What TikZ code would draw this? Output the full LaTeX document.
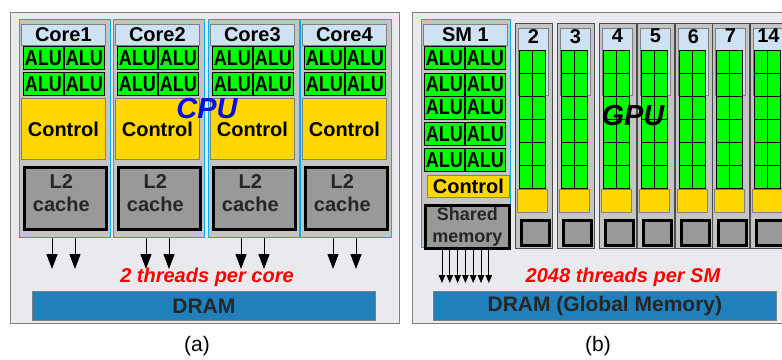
\documentclass[tikz,border=0pt]{standalone}
\usepackage{fontspec}
\setmainfont{Liberation Sans}
\usetikzlibrary{arrows.meta,positioning,calc}
\definecolor{aluGreen}{RGB}{0,255,0}
\definecolor{ctrlYellow}{RGB}{255,215,0}
\definecolor{headBlue}{RGB}{207,226,243}
\definecolor{cacheGray}{RGB}{153,153,153}
\definecolor{colGray}{RGB}{196,196,196}
\definecolor{dramBlue}{RGB}{31,128,187}
\definecolor{frameBg}{RGB}{232,234,238}
\definecolor{cpuBlue}{RGB}{10,10,235}
\newcommand{\ALU}{\scalebox{1}[1.2]{ALU}}
\tikzset{
  panel/.style={draw=gray, line width=1.2pt, fill=frameBg},
  corecol/.style={draw=cyan, fill=colGray, line width=0.8pt, inner sep=0pt},
  head/.style={draw=gray, fill=headBlue, line width=0.8pt, inner sep=0pt, font=\fontsize{20}{20}\selectfont\bfseries},
  alu/.style={draw=black, fill=aluGreen, line width=0.8pt, minimum width=40pt, minimum height=23pt, inner sep=0pt, font=\fontsize{18}{18}\selectfont\bfseries},
  ctrl/.style={draw=gray, fill=ctrlYellow, line width=0.8pt, inner sep=0pt, font=\fontsize{20}{20}\selectfont\bfseries},
  cache/.style={draw=black, fill=cacheGray, line width=2.6pt, inner sep=0pt, align=center, text=black!85, font=\fontsize{20}{23}\selectfont\bfseries},
  cachetext/.style={inner sep=0pt, align=center, text=black!85, font=\fontsize{20}{23}\selectfont\bfseries},
  smcol/.style={draw=black!70, fill=colGray, line width=0.8pt, minimum width=37pt, minimum height=225pt, inner sep=0pt},
  smhead/.style={draw=gray, fill=headBlue, line width=0.8pt, minimum width=30pt, minimum height=67pt, inner sep=0pt},
  grn/.style={draw=black, fill=aluGreen, line width=0.8pt, minimum width=26pt, minimum height=138pt, inner sep=0pt},
  num/.style={inner sep=1pt, font=\fontsize{20}{20}\selectfont\bfseries},
  dram/.style={draw=gray, fill=dramBlue, line width=0.8pt, inner sep=0pt, text=black!85, font=\fontsize{21}{21}\selectfont\bfseries},
  note/.style={text=red, font=\fontsize{20}{20}\selectfont\bfseries\itshape},
  big/.style={font=\fontsize{29}{29}\selectfont\bfseries\itshape},
  caption/.style={font=\fontsize{21}{21}\selectfont},
  flow/.style={-{Triangle[length=15pt,width=11pt]}, line width=1pt},
  flowsm/.style={-{Triangle[length=8pt,width=6.5pt]}, line width=0.8pt},
}
% one CPU core: name, left x, label
\newcommand{\CoreCol}[3]{%
  \node[corecol, anchor=north west, minimum width=91pt, minimum height=218pt] (#1) at (#2,19) {};
  \node[head, anchor=north west, minimum width=84pt, minimum height=21pt] (#1h) at ({#2+2},24) {#3};
  \foreach \row/\y in {1/46,2/72} {
    \node[alu, anchor=north west] (#1alu\row l) at ({#2+4},\y) {\ALU};
    \node[alu, anchor=north west] (#1alu\row r) at ({#2+45},\y) {\ALU};
  }
  \node[ctrl, anchor=north west, minimum width=84pt, minimum height=61pt] (#1c) at ({#2+2},98) {Control};
  \node[cache, anchor=north west, minimum width=82pt, minimum height=62pt] (#1m) at ({#2+4},166) {};
  \node[cachetext] (#1mt) at ($(#1m.center)+(-4,-5)$) {L2\\cache};
  \coordinate (#1e1) at ({#2+33},269);
  \coordinate (#1e2) at ({#2+56},269);
  \draw[flow] (#1e1 |- #1.south) -- (#1e1);
  \draw[flow] (#1e2 |- #1.south) -- (#1e2);
}
% one GPU streaming multiprocessor, collapsed: name, left x, label
\newcommand{\SMCol}[3]{%
  \node[smcol, anchor=north west] (#1) at (#2,23) {};
  \node[smhead, anchor=north west] (#1h) at ({#2+3},28) {};
  \node[num, anchor=north] (#1n) at (#1h.north) {#3};
  \node[grn, anchor=north west] (#1g) at ({#2+4},50) {};
  \draw[line width=0.8pt] (#1g.north) -- (#1g.south);
  \foreach \k in {1,...,5}
    \draw[line width=0.8pt] ($(#1g.north west)+(0,23*\k)$) -- ++(26,0);
  \node[ctrl, anchor=north west, minimum width=30pt, minimum height=23pt] (#1c) at ({#2+2},189) {};
  \node[cache, anchor=north west, minimum width=28pt, minimum height=25pt, line width=3pt] (#1m) at ({#2+5},219) {};
}

\begin{document}
\begin{tikzpicture}[x=1pt, y=-1pt]
  \useasboundingbox (0,0) rectangle (782,359);
  \clip (0,0) rectangle (782,359);
  \fill[white] (0,0) rectangle (782,359);

  % (a) CPU
  \node[panel, anchor=north west, minimum width=389pt, minimum height=311pt] (cpu) at (10,12) {};
  \CoreCol{core1}{19}{Core1}
  \CoreCol{core2}{113}{Core2}
  \CoreCol{core3}{208}{Core3}
  \CoreCol{core4}{300}{Core4}
  \node[note] (cpunote) at (207,277) {2 threads per core};
  \node[dram, anchor=north west, minimum width=343pt, minimum height=29pt] (dram) at (32,291) {DRAM};
  \node[big, text=cpuBlue] (cpulabel) at (207,109) {CPU};
  \node[caption] (capa) at (197,346) {(a)};

  % (b) GPU
  \node[panel, anchor=north west, minimum width=385pt, minimum height=311pt] (gpu) at (412,12) {};
  \node[corecol, anchor=north west, minimum width=89pt, minimum height=228pt] (sm1) at (421,19) {};
  \node[head, anchor=north west, minimum width=84pt, minimum height=21pt] (sm1h) at (423,24) {SM 1};
  \foreach \row/\y in {1/46,2/72.5,3/95.5,4/122,5/148} {
    \node[alu, anchor=north west] (sm1alu\row l) at (424,\y) {\ALU};
    \node[alu, anchor=north west] (sm1alu\row r) at (465,\y) {\ALU};
  }
  \node[ctrl, anchor=north west, minimum width=82pt, minimum height=22pt] (sm1c) at (427,175) {Control};
  \node[cache, anchor=north west, minimum width=84pt, minimum height=43pt, font=\fontsize{18}{22}\selectfont\bfseries] (sm1m) at (424,204) {Shared\\memory};
  \foreach \i in {0,...,6} {
    \coordinate (sme\i) at ({442+7.8*\i},283);
    \draw[flowsm] (sme\i |- sm1m.south) -- (sme\i);
  }
  \SMCol{sm2}{515}{2}
  \SMCol{sm3}{557}{3}
  \SMCol{sm4}{599}{4}
  \SMCol{sm5}{637}{5}
  \SMCol{sm6}{675}{6}
  \SMCol{sm7}{712}{7}
  \SMCol{sm14}{750}{14}
  \node[note] (gpunote) at (623,277) {2048 threads per SM};
  \node[dram, anchor=north west, minimum width=343pt, minimum height=29pt] (gdram) at (433,291) {DRAM (Global Memory)};
  \node[big] (gpulabel) at (633,116) {GPU};
  \node[caption] (capb) at (598,346) {(b)};
\end{tikzpicture}
\end{document}
